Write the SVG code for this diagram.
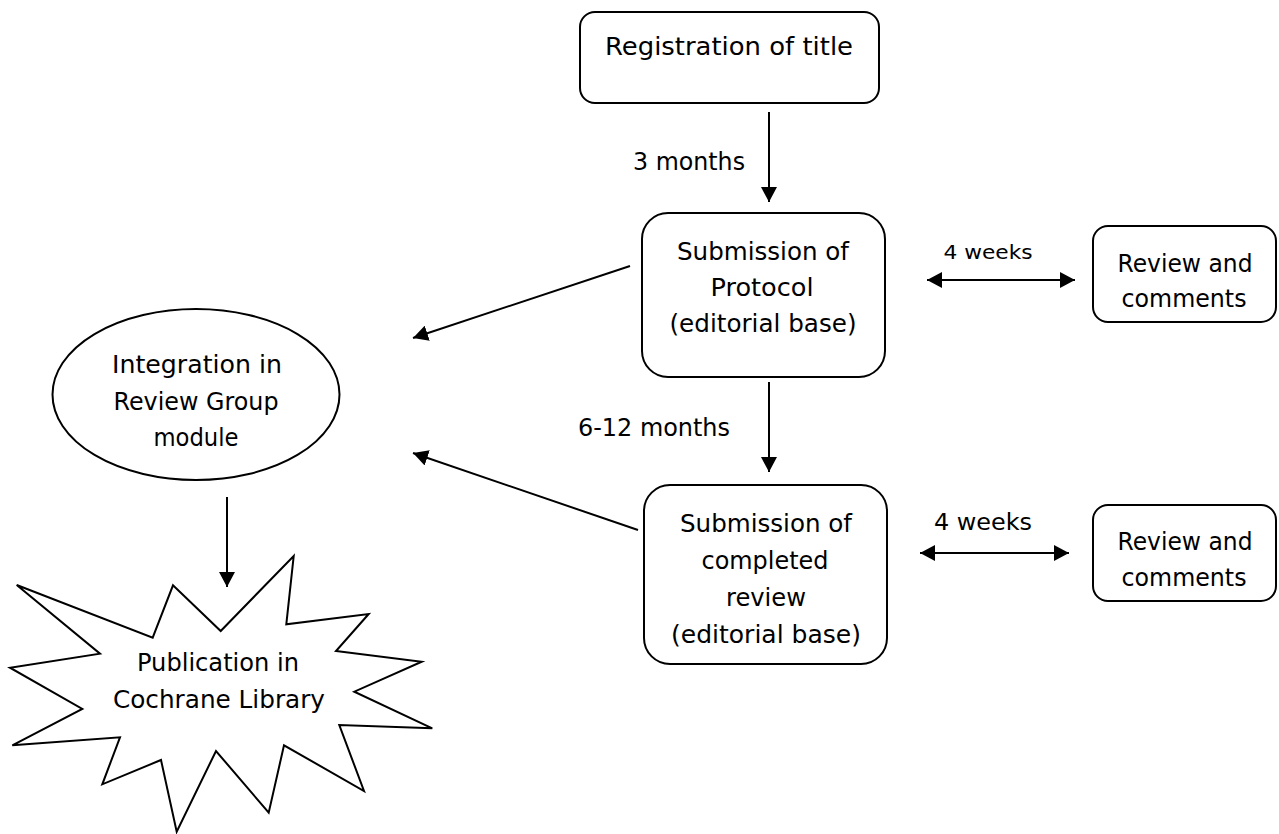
<svg xmlns="http://www.w3.org/2000/svg" width="1279" height="834" viewBox="0 0 1279 834">
<style>
.shape{fill:#fff;stroke:#000;stroke-width:2}
.conn{fill:none;stroke:#000;stroke-width:2}
text{font-family:"DejaVu Sans","Liberation Sans",sans-serif;font-size:24.5px;fill:#000;text-anchor:middle}
.small{font-size:20px}
.mid{font-size:23px}
</style>
<defs>
<marker id="ah" markerUnits="userSpaceOnUse" markerWidth="16" markerHeight="16" refX="15" refY="8" orient="auto-start-reverse">
<path d="M0,0 L15,8 L0,16 Z" fill="#000"/>
</marker>
</defs>
<rect width="1279" height="834" fill="#fff"/>
<g id="connectors">
<line class="conn" x1="769" y1="112" x2="769" y2="202" marker-end="url(#ah)"/>
<line class="conn" x1="769" y1="382" x2="769" y2="472" marker-end="url(#ah)"/>
<line class="conn" x1="630" y1="266" x2="413" y2="338" marker-end="url(#ah)"/>
<line class="conn" x1="638" y1="530" x2="413" y2="453" marker-end="url(#ah)"/>
<line class="conn" x1="227" y1="497" x2="227" y2="587" marker-end="url(#ah)"/>
<line class="conn" x1="927" y1="280" x2="1075" y2="280" marker-start="url(#ah)" marker-end="url(#ah)"/>
<line class="conn" x1="920" y1="553" x2="1069" y2="553" marker-start="url(#ah)" marker-end="url(#ah)"/>
<text x="689" y="170" textLength="112" lengthAdjust="spacingAndGlyphs">3 months</text>
<text x="654" y="436" textLength="152" lengthAdjust="spacingAndGlyphs">6-12 months</text>
<text class="small" x="988" y="259" textLength="89" lengthAdjust="spacingAndGlyphs">4 weeks</text>
<text class="mid" x="983" y="530" textLength="98" lengthAdjust="spacingAndGlyphs">4 weeks</text>
</g>
<g id="registration">
<rect class="shape" x="580" y="12" width="299" height="91" rx="15"/>
<text x="729" y="55" textLength="248" lengthAdjust="spacingAndGlyphs">Registration of title</text>
</g>
<g id="protocol">
<rect class="shape" x="642" y="213" width="243" height="164" rx="26"/>
<text x="763" y="260" textLength="172" lengthAdjust="spacingAndGlyphs">Submission of</text>
<text x="762" y="296" textLength="103" lengthAdjust="spacingAndGlyphs">Protocol</text>
<text x="763" y="332" textLength="187" lengthAdjust="spacingAndGlyphs">(editorial base)</text>
</g>
<g id="review1">
<rect class="shape" x="1093" y="226" width="183" height="96" rx="15"/>
<text x="1185" y="272" textLength="135" lengthAdjust="spacingAndGlyphs">Review and</text>
<text x="1184" y="307" textLength="125" lengthAdjust="spacingAndGlyphs">comments</text>
</g>
<g id="completed">
<rect class="shape" x="644" y="485" width="243" height="179" rx="26"/>
<text x="766" y="532" textLength="172" lengthAdjust="spacingAndGlyphs">Submission of</text>
<text x="765" y="569" textLength="127" lengthAdjust="spacingAndGlyphs">completed</text>
<text x="766" y="606" textLength="80" lengthAdjust="spacingAndGlyphs">review</text>
<text x="766" y="643" textLength="190" lengthAdjust="spacingAndGlyphs">(editorial base)</text>
</g>
<g id="review2">
<rect class="shape" x="1093" y="505" width="183" height="96" rx="15"/>
<text x="1185" y="550" textLength="135" lengthAdjust="spacingAndGlyphs">Review and</text>
<text x="1184" y="586" textLength="125" lengthAdjust="spacingAndGlyphs">comments</text>
</g>
<g id="integration">
<ellipse class="shape" cx="196" cy="394.5" rx="143.5" ry="85.5"/>
<text x="197" y="373" textLength="170" lengthAdjust="spacingAndGlyphs">Integration in</text>
<text x="196" y="410" textLength="165" lengthAdjust="spacingAndGlyphs">Review Group</text>
<text x="196" y="446" textLength="85" lengthAdjust="spacingAndGlyphs">module</text>
</g>
<g id="publication">
<polygon class="shape" points="16.7,585 152.7,637.7 173,585.3 220.7,631 293.7,556 286.3,624.3 368.7,614 336,651 421.7,661.7 354.3,691.7 432.3,728.3 339.3,725 364,791 284,745.3 268.7,812.7 216,751 176.7,831.7 161,760 102.3,784.3 120,737.3 12.3,745.3 82.3,709 10,667.7 100,653.7"/>
<text x="218" y="671" textLength="162" lengthAdjust="spacingAndGlyphs">Publication in</text>
<text x="219" y="708" textLength="212" lengthAdjust="spacingAndGlyphs">Cochrane Library</text>
</g>
</svg>
